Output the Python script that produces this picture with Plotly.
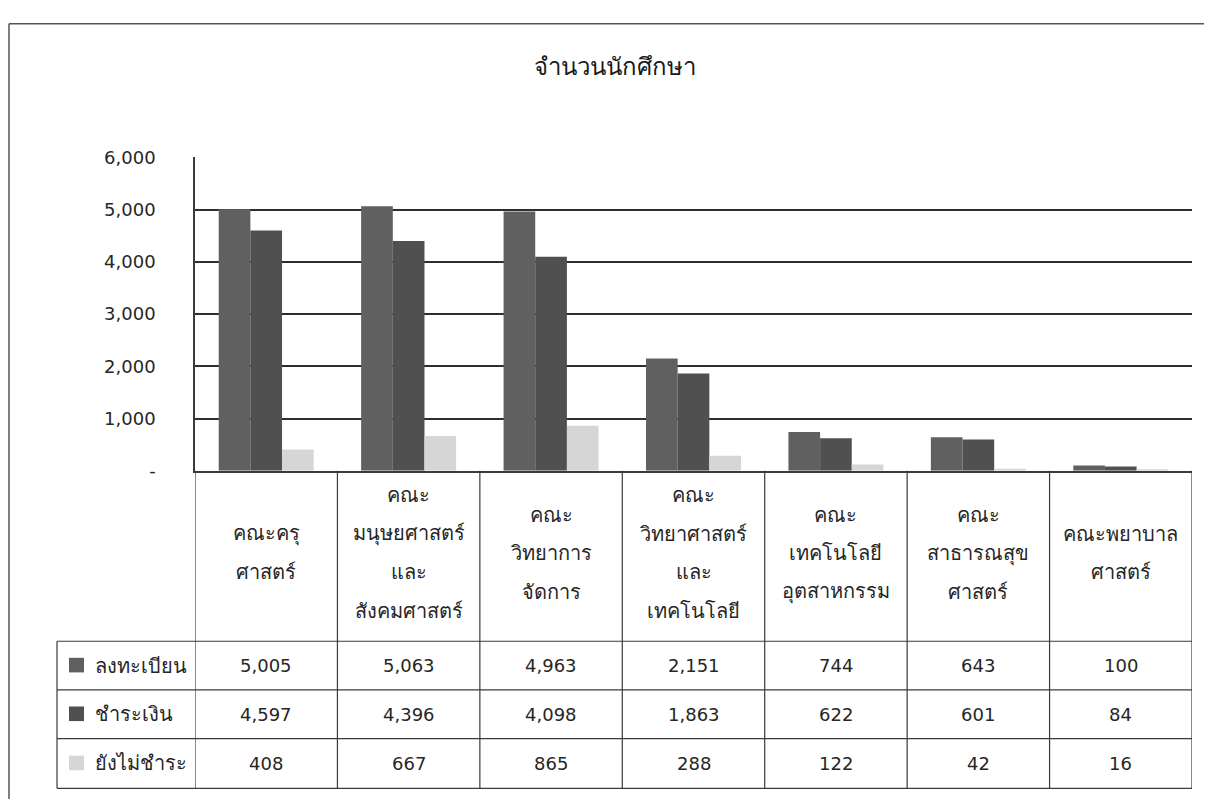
import plotly.graph_objects as go

# ---------------- data ----------------
categories = [
    "คณะครุ\nศาสตร์",
    "คณะ\nมนุษยศาสตร์\nและ\nสังคมศาสตร์",
    "คณะ\nวิทยาการ\nจัดการ",
    "คณะ\nวิทยาศาสตร์\nและ\nเทคโนโลยี",
    "คณะ\nเทคโนโลยี\nอุตสาหกรรม",
    "คณะ\nสาธารณสุข\nศาสตร์",
    "คณะพยาบาล\nศาสตร์",
]
series_names = ["ลงทะเบียน", "ชำระเงิน", "ยังไม่ชำระ"]
registered = [5005, 5063, 4963, 2151, 744, 643, 100]
paid = [4597, 4396, 4098, 1863, 622, 601, 84]
unpaid = [408, 667, 865, 288, 122, 42, 16]
y_ticks = [0, 1000, 2000, 3000, 4000, 5000, 6000]
y_ticktext = ["-", "1,000", "2,000", "3,000", "4,000", "5,000", "6,000"]
title_text = "จำนวนนักศึกษา"

# ---------------- styling / layout constants ----------------
W, H = 1212, 801
OFF = 8  # page body margin of the html output
colors = ["#606060", "#505050", "#d6d6d6"]
FONT = "Tahoma, DejaVu Sans, sans-serif"
TXT = "#262626"
LINE = "#3a3a3a"

PLOT_L, PLOT_R = 195, 1192
PLOT_T, PLOT_B = 150, 472
TABLE_L = 57
ROW_LINES = [647, 697, 747, 798]
CAT_LINE_H = 39.5
NUM_SIZE = 18
THAI_SIZE = 20


def px(x):
    return (x - OFF) / W


def py(y):
    return 1 - (y - OFF) / H


series_values = [registered, paid, unpaid]
x_idx = list(range(len(categories)))

fig = go.Figure()
for name, vals, col in zip(series_names, series_values, colors):
    fig.add_trace(go.Bar(
        x=x_idx, y=vals, name=name,
        marker=dict(color=col, line=dict(width=0)),
        showlegend=False,
    ))

shapes = []
annotations = []

# outer frame (scan border)
shapes.append(dict(type="line", xref="paper", yref="paper",
                   x0=px(9), x1=1.0, y0=py(13), y1=py(13),
                   line=dict(color="#555", width=1.5)))
shapes.append(dict(type="line", xref="paper", yref="paper",
                   x0=px(9), x1=px(9), y0=py(13), y1=0,
                   line=dict(color="#555", width=1.5)))

# table vertical lines at category boundaries
n = len(categories)
for i in range(n + 1):
    shapes.append(dict(type="line", xref="x", yref="paper",
                       x0=i - 0.5, x1=i - 0.5, y0=py(PLOT_B), y1=py(ROW_LINES[-1]),
                       line=dict(color=LINE, width=1.2)))
# left header column line
shapes.append(dict(type="line", xref="paper", yref="paper",
                   x0=px(TABLE_L), x1=px(TABLE_L), y0=py(ROW_LINES[0]), y1=py(ROW_LINES[-1]),
                   line=dict(color=LINE, width=1.2)))
# horizontal row lines
for r in ROW_LINES:
    shapes.append(dict(type="line", xref="paper", yref="paper",
                       x0=px(TABLE_L), x1=px(PLOT_R), y0=py(r), y1=py(r),
                       line=dict(color=LINE, width=1.2)))

# category labels (line by line)
cat_center = (PLOT_B + ROW_LINES[0]) / 2 - 3
for i, cat in enumerate(categories):
    lines = cat.split("\n")
    k = len(lines)
    for j, ln in enumerate(lines):
        yc = cat_center + (j - (k - 1) / 2) * CAT_LINE_H
        annotations.append(dict(x=i, y=py(yc), xref="x", yref="paper",
                                text=ln, showarrow=False, xanchor="center", yanchor="middle",
                                font=dict(family=FONT, size=THAI_SIZE, color=TXT)))

# table values + legend keys
for r, (name, vals, col) in enumerate(zip(series_names, series_values, colors)):
    yc = (ROW_LINES[r] + ROW_LINES[r + 1]) / 2
    for i, v in enumerate(vals):
        annotations.append(dict(x=i, y=py(yc), xref="x", yref="paper",
                                text=f"{v:,}", showarrow=False, xanchor="center", yanchor="middle",
                                font=dict(family=FONT, size=NUM_SIZE, color=TXT)))
    shapes.append(dict(type="rect", xref="paper", yref="paper",
                       x0=px(69), x1=px(84), y0=py(yc + 7), y1=py(yc - 8),
                       fillcolor=col, line=dict(width=0)))
    annotations.append(dict(x=px(93), y=py(yc), xref="paper", yref="paper",
                            text=name, showarrow=False, xanchor="left", yanchor="middle",
                            font=dict(family=FONT, size=THAI_SIZE, color=TXT)))

# title
annotations.append(dict(x=px(615), y=py(57), xref="paper", yref="paper",
                        text=title_text, showarrow=False, xanchor="center", yanchor="middle",
                        font=dict(family=FONT, size=24, color="#1a1a1a")))

fig.update_layout(
    width=W, height=H,
    margin=dict(l=0, r=0, t=0, b=0),
    paper_bgcolor="white", plot_bgcolor="white",
    barmode="group", bargap=0.333, bargroupgap=0,
    shapes=shapes, annotations=annotations,
    font=dict(family=FONT, color=TXT),
)
fig.update_xaxes(
    domain=[px(PLOT_L), px(PLOT_R)], range=[-0.5, n - 0.5],
    showticklabels=False, showgrid=False, zeroline=False,
    showline=True, linecolor=LINE, linewidth=1.5, ticks="",
)
fig.update_yaxes(
    domain=[py(PLOT_B), py(PLOT_T)], range=[0, 6000],
    tickvals=y_ticks, ticktext=y_ticktext,
    tickfont=dict(family=FONT, size=NUM_SIZE, color=TXT),
    ticklabelstandoff=34,
    showgrid=True, gridcolor="#2e2e2e", gridwidth=1.5,
    zeroline=False, showline=True, linecolor=LINE, linewidth=1.5, ticks="",
)

fig.write_html("out.html")
